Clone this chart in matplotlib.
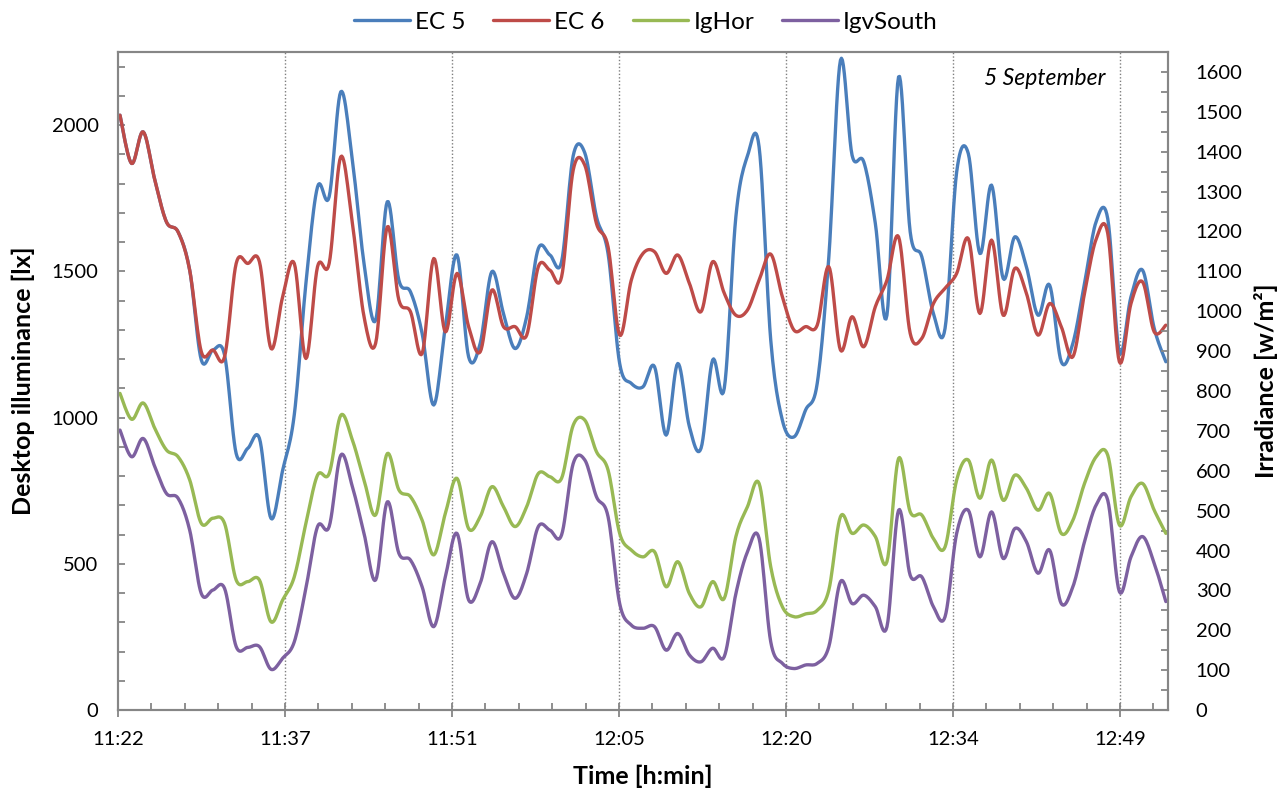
import matplotlib
matplotlib.use("Agg")
import matplotlib.pyplot as plt
import numpy as np
from matplotlib.ticker import MultipleLocator, FixedLocator

plt.rcParams['font.family'] = ['Lato', 'DejaVu Sans']

# one sample per minute, minutes after the first reading
minutes = np.arange(91)

ec5 = [2034, 1869, 1977, 1812, 1669, 1635, 1504, 1197, 1231, 1214,
       877, 895, 929, 655, 820, 1010, 1459, 1789, 1755, 2114,
       1880, 1527, 1333, 1738, 1470, 1430, 1288, 1043, 1311, 1556,
       1208, 1254, 1499, 1356, 1236, 1345, 1578, 1556, 1533, 1895,
       1905, 1687, 1561, 1185, 1117, 1105, 1174, 940, 1185, 969,
       895, 1197, 1100, 1687, 1895, 1925, 1265, 991, 934, 1026,
       1117, 1550, 2222, 1897, 1875, 1664, 1350, 2165, 1635, 1550,
       1356, 1305, 1840, 1903, 1561, 1795, 1476, 1618, 1516, 1350,
       1453, 1191, 1254, 1459, 1670, 1680, 1225, 1413, 1504, 1305,
       1191]

ec6 = [2034, 1869, 1977, 1812, 1669, 1635, 1504, 1225, 1231, 1208,
       1527, 1527, 1533, 1236, 1413, 1527, 1202, 1516, 1527, 1892,
       1664, 1345, 1254, 1652, 1402, 1362, 1219, 1544, 1293, 1493,
       1311, 1225, 1436, 1311, 1311, 1282, 1516, 1504, 1481, 1846,
       1863, 1664, 1584, 1282, 1470, 1561, 1567, 1493, 1556, 1459,
       1362, 1533, 1425, 1350, 1368, 1470, 1559, 1413, 1299, 1311,
       1316, 1516, 1231, 1345, 1242, 1379, 1470, 1618, 1288, 1271,
       1390, 1442, 1493, 1612, 1356, 1607, 1350, 1510, 1425, 1282,
       1390, 1311, 1208, 1425, 1610, 1630, 1191, 1390, 1464, 1293,
       1316]

ighor = [794, 729, 770, 706, 652, 635, 577, 468, 481, 468,
         326, 322, 326, 221, 276, 334, 468, 589, 593, 739,
         677, 577, 489, 643, 552, 535, 476, 389, 493, 581,
         455, 485, 560, 510, 460, 510, 593, 585, 581, 714,
         727, 648, 602, 443, 401, 384, 397, 309, 372, 292,
         259, 322, 280, 435, 510, 568, 359, 259, 234, 241,
         250, 301, 485, 443, 464, 435, 372, 631, 497, 489,
         430, 409, 577, 627, 531, 627, 526, 589, 556, 501,
         543, 443, 476, 568, 635, 639, 464, 535, 568, 501,
         443]

igvsouth = [702, 635, 681, 610, 543, 531, 451, 292, 301, 305,
            159, 157, 159, 102, 130, 171, 305, 460, 460, 639,
            560, 443, 326, 522, 393, 376, 309, 209, 334, 443,
            276, 318, 422, 343, 280, 343, 460, 451, 439, 618,
            627, 535, 485, 267, 213, 205, 209, 150, 192, 138,
            121, 155, 134, 292, 397, 430, 171, 117, 104, 113,
            117, 159, 322, 267, 288, 259, 209, 501, 338, 334,
            259, 234, 443, 501, 384, 497, 380, 455, 422, 343,
            401, 267, 309, 422, 514, 526, 297, 384, 435, 368,
            272]

time_labels = ['11:22', '11:37', '11:51', '12:05', '12:20', '12:34', '12:49']
x_start = -0.17     # axis starts slightly before the first reading
label_step = 14.37  # minutes between labelled ticks
x_end = 90.19


def smooth(x, y, n=12):
    # Catmull-Rom curve through every point (Excel-style smoothed line)
    p = np.column_stack([x, y]).astype(float)
    p = np.vstack([p[0], p, p[-1]])
    s = np.linspace(0, 1, n, endpoint=False)[:, None]
    parts = []
    for i in range(1, len(p) - 2):
        p0, p1, p2, p3 = p[i - 1], p[i], p[i + 1], p[i + 2]
        seg = 0.5 * (2 * p1 + (-p0 + p2) * s
                     + (2 * p0 - 5 * p1 + 4 * p2 - p3) * s ** 2
                     + (-p0 + 3 * p1 - 3 * p2 + p3) * s ** 3)
        parts.append(seg)
    parts.append(p[-2][None, :])
    out = np.vstack(parts)
    return out[:, 0], out[:, 1]


fig = plt.figure(figsize=(12.84, 7.92), dpi=100)
ax = fig.add_axes([0.0919, 0.1035, 0.8178, 0.8308])
ax2 = ax.twinx()

lw = 2.4
blue, red, green, purple = '#4A7EBB', '#BE4B48', '#98B954', '#7D60A0'

l1, = ax.plot(*smooth(minutes, ec5), color=blue, lw=lw, solid_capstyle='round')
l2, = ax.plot(*smooth(minutes, ec6), color=red, lw=lw, solid_capstyle='round')
l3, = ax2.plot(*smooth(minutes, ighor), color=green, lw=lw, solid_capstyle='round')
l4, = ax2.plot(*smooth(minutes, igvsouth), color=purple, lw=lw, solid_capstyle='round')

major = [x_start + label_step * i for i in range(len(time_labels))]
minor = [x_start + label_step * i / 5 for i in range(32)]
ax.set_xlim(x_start, x_end)
ax.xaxis.set_major_locator(FixedLocator(major))
ax.xaxis.set_minor_locator(FixedLocator(minor))
ax.set_xticklabels(time_labels)
for xm in major[1:]:
    ax.axvline(xm, color='#7F7F7F', lw=1.0, ls=(0, (1, 1.5)), zorder=0)

ax.set_ylim(0, 2250)
ax.yaxis.set_major_locator(MultipleLocator(500))
ax.yaxis.set_minor_locator(MultipleLocator(100))
ax2.set_ylim(0, 1650)
ax2.yaxis.set_major_locator(MultipleLocator(100))
ax2.yaxis.set_minor_locator(MultipleLocator(50))
ax2.set_yticks(np.arange(0, 1601, 100))

spine_c = '#868686'
for a in (ax, ax2):
    for sp in a.spines.values():
        sp.set_color(spine_c)
        sp.set_linewidth(1.5)

tick_fs = 14.5
ax.tick_params(axis='x', which='major', direction='inout', length=10, width=1.3,
               color=spine_c, labelsize=tick_fs, pad=10)
ax.tick_params(axis='x', which='minor', direction='in', length=5, width=1.3, color=spine_c)
ax.tick_params(axis='y', which='both', direction='in', length=5, width=1.3,
               color=spine_c, labelsize=tick_fs, pad=14)
ax2.tick_params(axis='y', which='major', direction='in', length=5, width=1.3,
                color=spine_c, labelsize=tick_fs, pad=20)
ax2.tick_params(axis='y', which='minor', direction='in', length=5, width=1.3, color=spine_c)

label_fs = 18
ax.set_xlabel('Time [h:min]', fontsize=label_fs, fontweight='bold', labelpad=12)
ax.set_ylabel('Desktop illuminance [lx]', fontsize=label_fs, fontweight='bold', labelpad=12)
ax2.set_ylabel('Irradiance [w/m²]', fontsize=label_fs, fontweight='bold', labelpad=8)

ax.text(0.94, 0.975, '5 September', transform=ax.transAxes, fontsize=16.5,
        style='italic', ha='right', va='top')

fig.legend([l1, l2, l3, l4], ['EC 5', 'EC 6', 'IgHor', 'IgvSouth'],
           loc='center', bbox_to_anchor=(0.503, 0.972), ncol=4, frameon=False,
           fontsize=17.5, handlelength=2.3, columnspacing=1.15, handletextpad=0.2)

fig.savefig('out.png', dpi=100)
